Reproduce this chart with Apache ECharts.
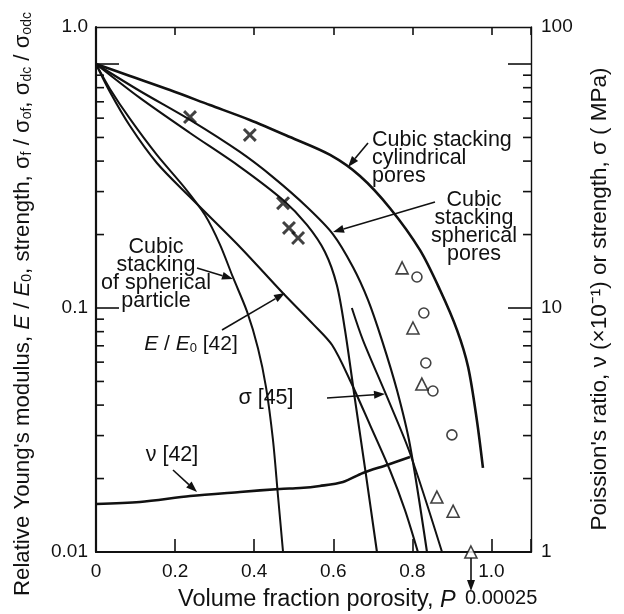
<!DOCTYPE html>
<html>
<head>
<meta charset="utf-8">
<script src="https://cdn.jsdelivr.net/npm/echarts@6/dist/echarts.min.js"></script>
<style>
  html, body { margin: 0; padding: 0; background: #fff; }
  #chart { width: 624px; height: 614px; }
</style>
</head>
<body>
<div id="chart"></div>
<script>
const FONT = '"Liberation Sans", Arial, Helvetica, sans-serif';
const INK = '#111';

// x: volume fraction porosity P ; left axis: relative modulus / strength (log)
const cylindricalPores = [[0,1],[0.086,0.893],[0.187,0.782],[0.288,0.679],[0.389,0.59],[0.4905,0.502],[0.592,0.424],[0.6675,0.3475],[0.743,0.257],[0.819,0.173],[0.87,0.1185],[0.913,0.0812],[0.941,0.0573],[0.963,0.0348],[0.9785,0.0221]];
const sphericalPores = [[0,1],[0.111,0.775],[0.2377,0.59],[0.364,0.436],[0.4475,0.344],[0.5335,0.2595],[0.599,0.201],[0.65,0.147],[0.688,0.1078],[0.723,0.0739],[0.761,0.0461],[0.794,0.0274],[0.837,0.01]];
const midCurve = [[0,1],[0.111,0.726],[0.2377,0.5215],[0.364,0.379],[0.473,0.277],[0.5335,0.219],[0.579,0.1697],[0.609,0.1242],[0.6296,0.0813],[0.655,0.042],[0.6827,0.0207],[0.7105,0.01]];
const modulus42 = [[0,1],[0.0354,0.768],[0.086,0.557],[0.154,0.393],[0.2377,0.285],[0.364,0.178],[0.473,0.115],[0.549,0.0859],[0.597,0.0705],[0.642,0.0507],[0.6928,0.0332],[0.743,0.0217],[0.781,0.0149],[0.814,0.01]];
const sphericalParticle = [[0,1],[0.0354,0.79],[0.086,0.5954],[0.154,0.424],[0.225,0.31],[0.2756,0.2405],[0.3135,0.182],[0.346,0.134],[0.382,0.0966],[0.4096,0.0684],[0.43,0.0473],[0.4475,0.0288],[0.46,0.01712],[0.473,0.01]];

// right axis: strength sigma (MPa) and Poisson's ratio nu (x10^-1)
const sigma45 = [[0.647,10],[0.675,7.39],[0.736,4.32],[0.794,2.54],[0.875,1.0]];
const nu42 = [[0,1.573],[0.111,1.603],[0.238,1.696],[0.364,1.762],[0.465,1.813],[0.516,1.829],[0.566,1.865],[0.6245,1.936],[0.675,2.108],[0.736,2.273],[0.794,2.451]];

// measured points (left axis)
const crossPoints = [[0.2377,0.606],[0.389,0.512],[0.473,0.269],[0.488,0.213],[0.511,0.1936]];
const circlePoints = [[0.8116,0.134],[0.829,0.0954],[0.834,0.0595],[0.852,0.0457],[0.9,0.0302]];
const trianglePoints = [[0.774,0.146],[0.8015,0.0828],[0.824,0.0488],[0.862,0.0168],[0.903,0.0147],[0.948,0.01]];

// axis ranges and tick values
const xRange = [0, 1.1];
const xStep = 0.2;
const leftRange = [0.01, 1.418];
const rightRange = [1, 141.8];
const leftTickValues = [0.02,0.03,0.04,0.05,0.06,0.07,0.08,0.09,0.1,0.2,0.3,0.4,0.5,0.6,0.7,0.8,0.9,1];
const rightTickValues = [2,3,4,5,6,7,8,9,10,20,30,40,50,60,70,80,90,100];
const leftTopLabel = '1.0';
const rightTopLabel = '100';

const GRID = { left: 96, top: 27, right: 93, bottom: 62 };

// filled "x" glyph for the crossed data points
const CROSS_PATH = 'path://M1.5,0 L5,3.5 L8.5,0 L10,1.5 L6.5,5 L10,8.5 L8.5,10 L5,6.5 L1.5,10 L0,8.5 L3.5,5 L0,1.5 Z';

function isDecade(v) {
  const l = Math.log10(v);
  return Math.abs(l - Math.round(l)) < 1e-6;
}

function tickSeries(values, yIndex, xAt, dir) {
  return {
    type: 'custom', coordinateSystem: 'cartesian2d', xAxisIndex: 0, yAxisIndex: yIndex,
    silent: true, clip: false, z: 6,
    data: values.map(v => [xAt, v]),
    renderItem: (params, api) => {
      const v = api.value(1);
      const p = api.coord([api.value(0), v]);
      const len = isDecade(v) ? 23 : 8;
      return { type: 'line', shape: { x1: p[0], y1: p[1], x2: p[0] + dir * len, y2: p[1] },
               style: { stroke: INK, lineWidth: 1.6 } };
    }
  };
}

function curve(name, data, width, yIndex) {
  return {
    name, type: 'line', data, yAxisIndex: yIndex || 0, showSymbol: false, symbol: 'none',
    smooth: 0.3, silent: true, z: 3,
    lineStyle: { color: INK, width: width || 2 }
  };
}

function arrow(x1, y1, x2, y2) {
  const a = Math.atan2(y2 - y1, x2 - x1);
  const L = 11, W = 4;
  const bx = x2 - L * Math.cos(a), by = y2 - L * Math.sin(a);
  const nx = -Math.sin(a) * W, ny = Math.cos(a) * W;
  return [
    { type: 'line', shape: { x1, y1, x2: bx, y2: by }, style: { stroke: INK, lineWidth: 1.6 }, z: 10 },
    { type: 'polygon', shape: { points: [[x2, y2], [bx + nx, by + ny], [bx - nx, by - ny]] }, style: { fill: INK }, z: 10 }
  ];
}

function label(text, x, y, opts) {
  return {
    type: 'text', x, y, z: 10,
    style: Object.assign({
      text, fill: INK, fontFamily: FONT, fontSize: 21.5, lineHeight: 18,
      align: 'center', verticalAlign: 'middle'
    }, opts || {})
  };
}

function richFor(size) {
  return {
    it: { fontStyle: 'italic', fontFamily: FONT, fontSize: size, fill: INK },
    sub: { fontFamily: FONT, fontSize: Math.round(size * 0.64), lineHeight: Math.round(size * 0.64), verticalAlign: 'bottom', fill: INK }
  };
}

const graphics = [
  // top corner labels of the two log axes
  label(leftTopLabel, GRID.left - 8, GRID.top, { align: 'right', fontSize: 19 }),
  label(rightTopLabel, 624 - GRID.right + 10, GRID.top, { align: 'left', fontSize: 19 }),

  // axis titles
  {
    type: 'text', x: 23, y: 304, rotation: Math.PI / 2, z: 10,
    style: {
      text: "Relative Young's modulus, {it|E} / {it|E}{sub|0}, strength, σ{sub|f} / σ{sub|of}, σ{sub|dc} / σ{sub|odc}",
      fill: INK, fontFamily: FONT, fontSize: 22.2, align: 'center', verticalAlign: 'middle', rich: richFor(22.2)
    }
  },
  {
    type: 'text', x: 600, y: 299, rotation: Math.PI / 2, z: 10,
    style: {
      text: "Poission's ratio, ν (×10⁻¹) or strength, σ ( MPa)",
      fill: INK, fontFamily: FONT, fontSize: 22.5, align: 'center', verticalAlign: 'middle'
    }
  },
  {
    type: 'text', x: 178, y: 600, z: 10,
    style: {
      text: 'Volume fraction porosity, {it|P}',
      fill: INK, fontFamily: FONT, fontSize: 23.5, align: 'left', verticalAlign: 'middle', rich: richFor(23.5)
    }
  },
  label('0.00025', 465, 598, { align: 'left', fontSize: 20 }),

  // curve annotations
  label('Cubic stacking\ncylindrical\npores', 372, 158, { align: 'left' }),
  label('Cubic\nstacking\nspherical\npores', 474, 227),
  label('Cubic\nstacking\nof spherical\nparticle', 156, 274),
  {
    type: 'text', x: 191, y: 344, z: 10,
    style: {
      text: '{it|E} / {it|E}{sub|0} [42]', fill: INK, fontFamily: FONT, fontSize: 21,
      align: 'center', verticalAlign: 'middle', rich: richFor(21)
    }
  },
  label('σ [45]', 266, 398),
  label('ν [42]', 172, 455),

  ...arrow(368, 143, 348, 167),
  ...arrow(435, 202, 333, 232),
  ...arrow(197, 268, 233, 279),
  ...arrow(222, 330, 285, 293),
  ...arrow(327, 398, 385, 394),
  ...arrow(173, 470, 197, 492),
  ...arrow(471, 558, 471, 591)
];

const option = {
  animation: false,
  backgroundColor: '#fff',
  grid: { left: GRID.left, top: GRID.top, right: GRID.right, bottom: GRID.bottom, containLabel: false },
  xAxis: [
    {
      type: 'value', min: xRange[0], max: xRange[1], interval: xStep, position: 'bottom',
      axisLine: { show: true, onZero: false, lineStyle: { color: INK, width: 2.2 } },
      axisTick: { show: true, inside: true, length: 13, lineStyle: { color: INK, width: 1.6 } },
      axisLabel: {
        margin: 10, fontSize: 19, fontFamily: FONT, color: INK,
        formatter: v => (v > 1.05 ? '' : (v === 0 ? '0' : v.toFixed(1)))
      },
      splitLine: { show: false }
    },
    {
      type: 'value', min: xRange[0], max: xRange[1], interval: xStep, position: 'top',
      axisLine: { show: true, onZero: false, lineStyle: { color: INK, width: 1.4 } },
      axisTick: { show: true, inside: true, length: 8, lineStyle: { color: INK, width: 1.6 } },
      axisLabel: { show: false },
      splitLine: { show: false }
    }
  ],
  yAxis: [
    {
      type: 'log', logBase: 10, min: leftRange[0], max: leftRange[1], position: 'left',
      axisLine: { show: true, onZero: false, lineStyle: { color: INK, width: 2.2 } },
      axisTick: { show: false }, minorTick: { show: false }, splitLine: { show: false },
      axisLabel: {
        margin: 8, fontSize: 19, fontFamily: FONT, color: INK,
        formatter: v => (isDecade(v) && v < 0.5 ? String(+v.toPrecision(3)) : '')
      }
    },
    {
      type: 'log', logBase: 10, min: rightRange[0], max: rightRange[1], position: 'right',
      axisLine: { show: true, onZero: false, lineStyle: { color: INK, width: 1.4 } },
      axisTick: { show: false }, minorTick: { show: false }, splitLine: { show: false },
      axisLabel: {
        margin: 10, fontSize: 19, fontFamily: FONT, color: INK,
        formatter: v => (isDecade(v) && v < 50 ? String(Math.round(v)) : '')
      }
    }
  ],
  series: [
    curve('Cubic stacking cylindrical pores', cylindricalPores, 2.6),
    curve('Cubic stacking spherical pores', sphericalPores, 2.1),
    curve('mid', midCurve, 2.1),
    curve('E/E0 [42]', modulus42, 2.1),
    curve('Cubic stacking of spherical particle', sphericalParticle, 2.0),
    curve('σ [45]', sigma45, 2.0, 1),
    curve('ν [42]', nu42, 2.6, 1),
    {
      type: 'scatter', data: crossPoints, symbol: CROSS_PATH, symbolSize: 14,
      itemStyle: { color: INK }, z: 4, silent: true
    },
    {
      type: 'scatter', data: circlePoints, symbol: 'circle', symbolSize: 10,
      itemStyle: { color: '#fff', borderColor: INK, borderWidth: 1.6 }, z: 4, silent: true
    },
    {
      type: 'scatter', data: trianglePoints, symbol: 'triangle', symbolSize: 12,
      itemStyle: { color: '#fff', borderColor: INK, borderWidth: 1.6 }, z: 4, silent: true
    },
    tickSeries(leftTickValues, 0, xRange[0], 1),
    tickSeries(rightTickValues, 1, xRange[1], -1)
  ],
  graphic: graphics
};

const chart = echarts.init(document.getElementById('chart'), null, { renderer: 'canvas' });
chart.setOption(option);
</script>
</body>
</html>
